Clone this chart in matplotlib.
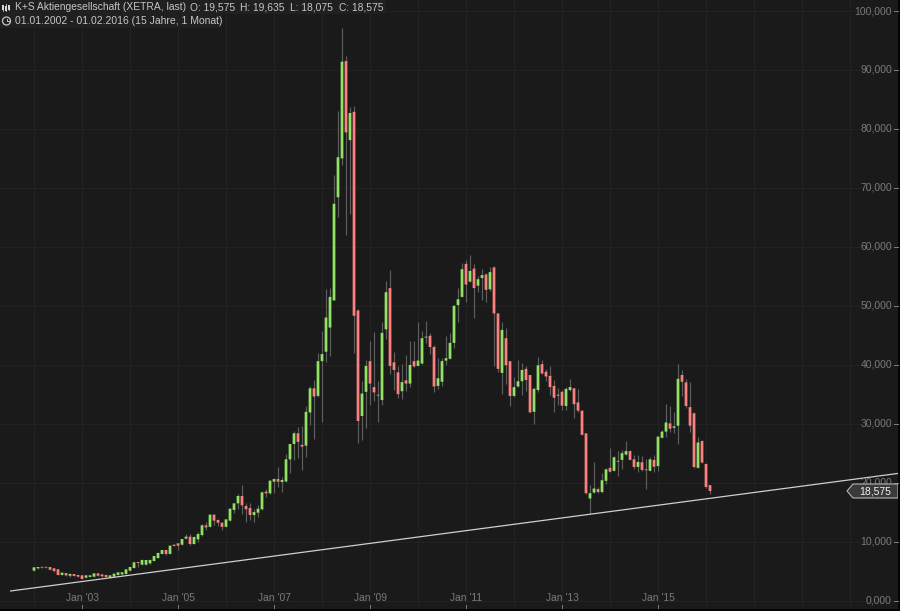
import matplotlib
matplotlib.use("Agg")
import matplotlib.pyplot as plt
import numpy as np
from matplotlib.patches import Polygon, Circle, Rectangle
from matplotlib.lines import Line2D
from matplotlib.transforms import Affine2D, blended_transform_factory

plt.rcParams['font.family'] = ['Liberation Sans', 'DejaVu Sans']

opens = [5.06,5.46,5.68,5.68,5.68,5.46,5.29,4.33,4.66,4.2,4.5,4.33,4.27,3.87,4.0,4.04,4.6,4.43,4.33,3.93,
 4.04,4.33,4.44,4.5,5.06,5.51,6.53,6.08,6.08,6.3,6.7,7.2,7.89,8.57,7.89,9.47,9.7,9.47,10.49,10.83,
 9.58,10.38,11.1,12.75,12.5,14.56,13.66,13.2,12.5,13.55,15.36,16.48,17.73,16.03,15.7,14.5,14.9,15.47,18.46,18.18,
 20.16,20.6,20.1,20.2,23.95,26.55,28.36,26.4,26.26,31.9,36.0,34.7,40.6,42.2,46.3,50.9,68.4,75.0,91.5,78.1,
 82.9,49.2,31.3,35.4,40.6,36.2,34.9,34.0,46.0,53.0,40.4,38.7,35.5,37.35,36.8,40.6,39.8,40.2,44.6,44.9,
 43.0,36.4,37.1,40.7,41.0,43.7,50.1,51.5,57.1,54.1,56.3,53.4,54.7,55.3,52.8,56.5,48.7,38.6,44.5,40.6,
 34.7,36.3,37.2,39.3,38.25,32.0,35.7,40.1,38.8,38.1,36.4,34.75,35.4,33.0,35.7,36.0,33.6,32.2,28.35,17.3,
 18.3,18.9,18.4,20.3,22.5,22.0,23.65,23.85,24.75,25.35,23.95,22.65,23.45,22.25,22.0,23.85,22.8,27.6,28.65,30.05,
 29.3,29.65,38.25,37.0,32.8,31.75,22.5,27.05,23.15,19.575]
highs = [5.75,5.72,5.7,5.7,5.72,5.5,5.35,4.75,4.7,4.6,4.55,4.4,4.3,4.3,4.3,4.65,4.65,4.45,4.35,4.4,
 4.6,4.82,4.8,5.35,5.7,6.7,6.6,7.0,6.95,7.0,7.6,8.3,8.65,8.6,9.35,9.6,9.8,10.5,11.2,11.25,
 10.9,11.7,12.9,13.3,14.65,14.65,13.9,13.3,13.8,15.65,16.55,18.07,19.6,16.5,16.6,15.6,16.2,18.5,18.86,20.45,
 20.7,22.6,21.0,24.85,26.6,28.8,29.5,29.6,33.0,36.4,37.4,41.9,45.7,52.8,53.0,72.2,83.1,97.06,92.3,83.7,
 83.9,49.5,37.3,40.8,44.1,45.6,37.3,47.3,54.2,56.0,42.1,39.8,40.1,41.6,44.1,44.1,47.3,45.7,47.4,45.3,
 43.3,41.1,41.2,44.9,45.3,50.1,53.0,57.2,57.8,58.6,57.1,55.0,56.3,55.5,56.6,56.7,48.8,47.3,46.3,40.7,
 37.9,40.8,40.3,39.8,38.3,36.3,41.3,40.8,39.3,39.8,37.4,36.0,35.7,36.3,37.6,36.1,35.9,32.3,28.4,19.6,
 23.5,19.3,21.6,22.4,25.8,24.5,25.4,25.5,27.1,25.6,24.7,24.7,24.5,23.95,24.3,24.6,27.9,29.0,33.3,33.0,
 31.9,40.1,39.1,37.5,37.0,32.0,27.8,27.2,23.3,19.635]
lows = [5.0,5.4,5.55,5.55,5.2,4.85,4.3,4.25,4.2,3.95,4.1,4.0,3.6,3.8,3.95,4.0,4.15,4.05,3.95,3.85,
 3.95,4.3,4.4,4.45,5.0,5.45,5.7,6.0,6.0,6.25,6.65,7.15,7.85,7.8,7.85,9.2,8.65,9.4,10.4,9.47,
 9.5,10.0,11.0,12.0,12.45,12.85,12.7,12.0,12.4,13.45,14.9,15.6,14.6,13.4,13.66,13.4,14.1,15.35,17.5,18.1,
 18.18,19.2,18.4,20.1,21.6,23.8,24.1,22.1,24.3,29.8,27.4,34.6,30.3,40.5,41.5,50.9,65.1,73.9,62.0,65.6,
 42.0,26.8,27.2,29.3,33.1,33.8,30.3,33.2,44.4,38.5,35.7,34.3,34.2,35.5,36.3,39.6,39.7,40.1,43.7,41.8,
 35.4,35.8,36.4,40.0,40.9,42.8,47.3,51.4,50.7,54.0,48.0,52.4,51.0,50.7,52.5,39.7,38.8,35.0,36.7,33.0,
 34.6,36.2,34.9,35.5,31.9,29.9,35.3,38.4,37.2,34.9,31.9,33.2,32.3,32.3,35.6,31.0,31.9,28.0,18.0,14.7,
 18.2,18.3,18.3,19.8,21.8,21.9,21.1,22.3,24.7,23.8,22.3,21.85,22.0,18.9,21.9,21.85,22.0,27.5,27.8,28.5,
 28.4,26.5,34.7,32.7,28.6,22.5,22.4,23.3,19.1,18.075]
closes = [5.63,5.68,5.57,5.57,5.23,5.0,4.33,4.72,4.27,4.5,4.16,4.04,3.65,4.27,4.27,4.6,4.2,4.1,3.98,4.27,
 4.55,4.78,4.78,5.29,5.68,6.47,6.36,6.87,6.87,6.87,7.55,8.06,8.57,7.89,9.3,9.25,9.3,10.43,10.83,9.58,
 10.77,11.28,12.75,12.4,14.56,13.55,13.2,12.5,13.77,15.58,16.48,17.73,16.14,15.47,14.5,15.0,15.58,18.35,18.18,20.33,
 20.6,20.16,20.44,23.95,26.55,28.36,26.9,26.1,32.0,36.0,34.6,40.6,41.8,48.0,51.5,67.3,75.2,91.4,79.4,82.7,
 48.3,30.45,35.1,39.8,36.8,35.3,34.75,45.4,52.3,39.8,39.1,35.0,37.05,36.8,39.95,39.7,40.7,44.5,44.7,43.0,
 36.3,37.7,40.6,41.1,43.7,50.0,51.1,56.2,53.6,55.9,53.0,54.5,55.2,52.7,55.7,48.7,39.3,45.9,39.9,34.7,
 36.2,37.2,39.1,37.4,31.9,35.9,39.9,38.5,38.0,36.2,34.4,34.85,33.05,35.9,36.2,33.3,32.2,28.1,18.2,18.2,
 19.0,18.4,20.4,22.25,21.85,24.3,23.55,25.0,25.35,23.85,22.65,23.5,22.15,22.1,23.95,22.7,27.8,28.65,30.2,29.15,
 29.55,37.6,37.1,33.0,29.65,22.65,26.8,23.4,19.25,18.575]

year_ticks = ["Jan '03", "Jan '05", "Jan '07", "Jan '09", "Jan '11", "Jan '13", "Jan '15"]
year_tick_pos = [12, 36, 60, 84, 108, 132, 156]
year_grid_pos = [0, 12, 24, 36, 48, 60, 72, 84, 96, 108, 120, 132, 144, 156, 168, 180, 192, 204]
price_ticks = [0, 10, 20, 30, 40, 50, 60, 70, 80, 90, 100]
trend_x = [-6, 216.5]
trend_y = [1.6, 21.6]
title1 = "K+S Aktiengesellschaft (XETRA, last)"
ohlc_text = ["O: 19,575", "H: 19,635", "L: 18,075", "C: 18,575"]
title2 = "01.01.2002 - 01.02.2016 (15 Jahre, 1 Monat)"

BG = '#1a1a1a'
GRID = '#222222'
UP = '#8fe262'
DOWN = '#fb8080'
WICK = '#5e5e5e'
LABEL = '#7a7a7a'

W, H = 900, 611
fig = plt.figure(figsize=(W/100, H/100), dpi=100, facecolor='#050505')
ax = fig.add_axes([0, 2/H, 898/W, 609/H], facecolor=BG)
ax.set_xlim((0-34)/4, (898-34)/4)
ax.set_ylim((600.5-609)/5.895, 600.5/5.895)
for s in ax.spines.values():
    s.set_visible(False)
ax.tick_params(left=False, bottom=False, labelleft=False, labelbottom=False)
ax.set_axisbelow(True)

for v in price_ticks:
    ax.axhline(v, color=GRID, lw=0.72, zorder=0)
for v in year_grid_pos:
    ax.axvline(v, color=GRID, lw=0.72, zorder=0)

o, h, l, c = map(np.array, (opens, highs, lows, closes))
x = np.arange(len(o))
colors = np.where(c >= o, UP, DOWN)
ax.vlines(x, l, h, color=WICK, lw=0.85, zorder=2)
tops = np.maximum(o, c)
bots = np.minimum(o, c)
bars = ax.bar(x, np.maximum(tops-bots, 0.15), bottom=bots, width=0.68, color=colors, lw=0, zorder=3)
for b in bars:
    b.set_snap(False)

ax.plot(trend_x, trend_y, color='#cfcfcf', lw=0.9, zorder=4, solid_capstyle='butt')

yt = blended_transform_factory(ax.transAxes, ax.transData)
for v in price_ticks:
    ax.plot([894/898, 898/898], [v, v], transform=yt, color=LABEL, lw=0.72, zorder=5, clip_on=False)
    ax.text(892/898, v, f"{v:.3f}".replace('.', ','), transform=yt, ha='right', va='center',
            color=LABEL, fontsize=7.5, zorder=5)
xt = blended_transform_factory(ax.transData, ax.transAxes)
for p, s in zip(year_tick_pos, year_ticks):
    ax.plot([p, p], [0, 4/609], transform=xt, color=LABEL, lw=0.72, zorder=5)
    ax.text(p + 0.12, 11/609, s, transform=xt, ha='center', va='center', color=LABEL, fontsize=7.4, zorder=5)

# last-price flag, anchored on the last close
last = closes[-1]
hh = 7/5.895
px = lambda v: v/898
flag = Polygon([(px(847), last), (px(853), last+hh), (px(898), last+hh),
                (px(898), last-hh), (px(853), last-hh)], closed=True, transform=yt,
               facecolor='#3a3a3a', edgecolor='#b5b5b5', lw=0.8, zorder=6)
ax.add_patch(flag)
ax.text(px(875.5), last, f"{last:.3f}".replace('.', ','), transform=yt, ha='center', va='center',
        color='#f2f2f2', fontsize=7.5, zorder=7)

# header texts and icons, placed in image pixels
pix = Affine2D().scale(1, -1).translate(0, H)
fig.add_artist(Rectangle((0, 0), 386, 14, transform=pix, facecolor='#202020', edgecolor='none', zorder=8))
fig.add_artist(Rectangle((0, 14), 222, 14, transform=pix, facecolor='#202020', edgecolor='none', zorder=8))
TXT = '#c6c6c6'
fig.text(15, 7, title1, transform=pix, color=TXT, fontsize=7.42, va='center', ha='left', zorder=9)
for xp, s in zip([190, 240, 290, 339], ohlc_text):
    fig.text(xp, 7, s, transform=pix, color=TXT, fontsize=7.42, va='center', ha='left', zorder=9)
fig.text(15, 21, title2, transform=pix, color=TXT, fontsize=7.45, va='center', ha='left', zorder=9)
for xc, y0, y1, b0, b1 in [(3, 5, 11, 6, 9), (6, 4, 11, 7, 10), (9, 5, 10, 6, 9)]:
    fig.add_artist(Line2D([xc, xc], [y0, y1], transform=pix, color='#bdbdbd', lw=0.6, zorder=9))
    fig.add_artist(Line2D([xc, xc], [b0, b1], transform=pix, color='#e0e0e0', lw=1.4, zorder=9))
fig.add_artist(Circle((6.5, 21), 4, transform=pix, facecolor='none', edgecolor=TXT, lw=0.9, zorder=9))
fig.add_artist(Line2D([6.5, 6.5, 9], [18.5, 21, 21], transform=pix, color=TXT, lw=0.7, zorder=9))

fig.savefig('out.png', dpi=100, facecolor=fig.get_facecolor())
